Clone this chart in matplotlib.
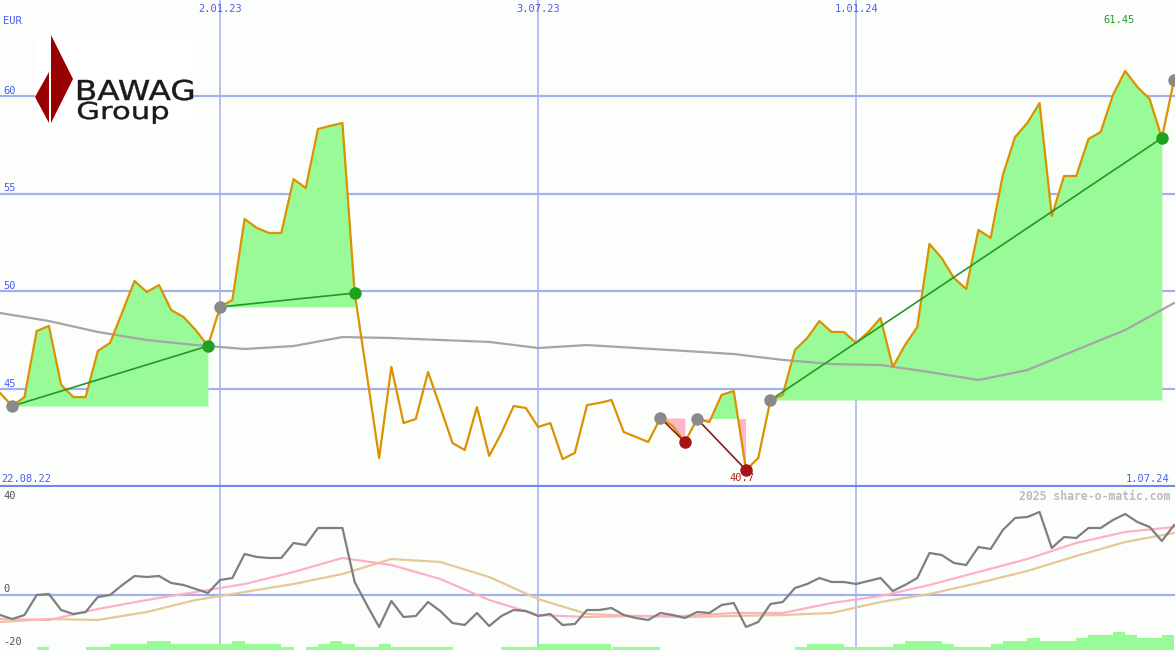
import numpy as np
import pandas as pd
import matplotlib
matplotlib.use('Agg')
import matplotlib.pyplot as plt
import matplotlib.dates as mdates
from matplotlib.patches import Polygon, Rectangle, PathPatch
from matplotlib.textpath import TextPath
from matplotlib.font_manager import FontProperties
from matplotlib.transforms import Affine2D, IdentityTransform

# weekly closes, EUR
price = [44.81, 44.14, 44.60, 47.98, 48.24, 45.22, 44.60, 44.60, 46.96, 47.37,
         48.95, 50.54, 49.97, 50.33, 49.05, 48.70, 48.03, 47.21, 49.21, 49.57,
         53.71, 53.25, 52.99, 52.99, 55.75, 55.29, 58.31, 58.47, 58.62, 49.92,
         45.73, 41.48, 46.14, 43.27, 43.48, 45.88, 44.09, 42.25, 41.89, 44.09,
         41.59, 42.76, 44.14, 44.04, 43.07, 43.27, 41.43, 41.74, 44.19, 44.30,
         44.45, 42.81, 42.56, 42.30, 43.53, 43.12, 42.30, 43.48, 43.32, 44.71,
         44.91, 40.87, 41.48, 44.45, 44.71, 47.01, 47.62, 48.49, 47.93, 47.93,
         47.37, 47.93, 48.64, 46.14, 47.26, 48.18, 52.43, 51.71, 50.69, 50.13,
         53.15, 52.74, 55.96, 57.90, 58.62, 59.64, 53.86, 55.91, 55.91, 57.80,
         58.16, 60.05, 61.28, 60.46, 59.85, 57.85, 60.82]

# long moving average, every 4th week
ma_long = [48.90, 48.49, 47.93, 47.52, 47.26, 47.06, 47.21, 47.67, 47.62, 47.52,
           47.42, 47.11, 47.26, 47.11, 46.96, 46.80, 46.50, 46.29, 46.24, 45.88,
           45.47, 45.98, 47.01, 48.03, 49.41]

# lower panel: momentum (weekly) and its two averages (every 4th week)
momentum = [-8.0, -9.6, -8.0, 0.0, 0.4, -6.0, -7.6, -6.8, -0.8, 0.0,
            4.0, 7.6, 7.2, 7.6, 4.8, 4.0, 2.4, 0.8, 6.0, 6.8,
            16.4, 15.2, 14.8, 14.8, 20.8, 20.0, 26.8, 26.8, 26.8, 5.2,
            -4.0, -12.8, -2.4, -8.8, -8.4, -2.8, -6.4, -11.2, -12.0, -7.2,
            -12.4, -8.4, -6.0, -6.4, -8.4, -7.6, -12.0, -11.6, -6.0, -6.0,
            -5.2, -8.0, -9.2, -10.0, -7.2, -8.0, -9.2, -6.8, -7.2, -4.0,
            -3.2, -12.8, -10.8, -3.6, -2.8, 2.8, 4.4, 6.8, 5.2, 5.2,
            4.4, 5.6, 6.8, 1.6, 4.0, 6.8, 16.8, 16.0, 12.8, 12.0,
            19.2, 18.4, 26.0, 30.8, 31.2, 33.2, 18.8, 23.2, 22.8, 26.8,
            26.8, 30.0, 32.4, 29.2, 27.2, 21.6, 28.0]
mom_fast = [-9.6, -10.0, -5.6, -2.0, 1.2, 4.4, 9.2, 14.8, 12.0, 6.4,
            -2.0, -8.0, -8.8, -8.4, -8.4, -7.2, -7.2, -3.2, -0.4, 4.0,
            9.2, 14.4, 20.8, 25.2, 27.2]
mom_slow = [-10.8, -9.6, -10.0, -6.8, -2.0, 1.2, 4.4, 8.4, 14.4, 13.2,
            7.2, -1.6, -7.6, -8.4, -8.8, -8.4, -8.0, -7.2, -2.8, 0.4,
            4.8, 9.6, 15.6, 21.2, 24.8]

# volume bars (relative levels)
vol = [0, 0, 0, 1, 0, 0, 0, 1, 1, 2, 2, 2, 3, 3, 2, 2, 2, 2, 2, 3,
       2, 2, 2, 1, 0, 1, 2, 3, 2, 1, 1, 2, 1, 1, 1, 1, 1, 0, 0, 0,
       0, 1, 1, 1, 2, 2, 2, 2, 2, 2, 1, 1, 1, 1, 0, 0, 0, 0, 0, 0,
       0, 0, 0, 0, 0, 1, 2, 2, 2, 1, 1, 1, 1, 2, 3, 3, 3, 2, 1, 1,
       1, 2, 3, 3, 4, 3, 3, 3, 4, 5, 5, 6, 5, 4, 4, 5]

# trend segments: (start week, end week, direction)
trends = [(1, 17, 'up'), (18, 29, 'up'), (54, 56, 'down'), (57, 61, 'down'), (63, 95, 'up')]
last_start = 96

date_ticks = ['2023-01-02', '2023-07-03', '2024-01-01']
price_ticks = [45, 50, 55, 60]
high_label, low_label = '61.45', '40.7'
high_week, low_week = 92, 61

dates = pd.date_range('2022-08-29', periods=len(price), freq='7D')
x = mdates.date2num(dates)
x4 = x[::4]
price = np.array(price)

bg = '#fcfefc'
grid = '#a3b0f0'
blue_txt = '#4a5cf0'

fig = plt.figure(figsize=(11.75, 6.5), dpi=100, facecolor=bg)
ax = fig.add_axes([0, 163 / 650, 1, 487 / 650])
ax2 = fig.add_axes([0, 0, 1, 163 / 650])
xmax = x[0] + 1175 / 12.23 * 7
for a in (ax, ax2):
    a.set_facecolor(bg)
    a.set_xlim(x[0], xmax)
    a.set_xticks([])
    a.set_yticks([])
    for s in a.spines.values():
        s.set_visible(False)

ax.set_ylim(40.0, 64.91)
ax2.set_ylim(-22, 43.2)

mono = 'DejaVu Sans Mono'

# grid
for v in price_ticks:
    ax.axhline(v, color=grid, lw=1.6, zorder=0.5)
    ax.text(x[0] + 2, v + 0.27, str(v), color=blue_txt, fontsize=7.5, family=mono,
            va='center', ha='left', zorder=6)
ax.axhline(40.0, color='#7585f0', lw=3, zorder=0.6)
for d in date_ticks:
    dn = mdates.date2num(pd.Timestamp(d))
    ax.axvline(dn, color=grid, lw=1.1, zorder=0.5)
    ax2.axvline(dn, color=grid, lw=1.1, zorder=0.5)
    lab = pd.Timestamp(d).strftime('%d.%m.%y').lstrip('0')
    ax.text(dn, 0.9815, lab, color=blue_txt, fontsize=7.5, family=mono, ha='center',
            va='center', transform=ax.get_xaxis_transform())
ax.text(x[0] + 2, 63.84, 'EUR', color=blue_txt, fontsize=7.5, family=mono, va='center')
ax.text(x[0] + 0.5, 40.41, '22.08.22', color=blue_txt, fontsize=7.5,
        family=mono, va='center')
ax.text(xmax - 3, 40.41, '1.07.24', color=blue_txt, fontsize=7.5, family=mono,
        va='center', ha='right')

# trend fills, lines and markers
for s, e, kind in trends:
    xs, ps = x[s:e + 1], price[s:e + 1]
    base = price[s]
    ax.fill_between(xs, ps, base, where=ps >= base, interpolate=True,
                    color='#98fb98', lw=0, zorder=1)
    ax.fill_between(xs, ps, base, where=ps <= base, interpolate=True,
                    color='#ffb6c8', lw=0, zorder=1)

ax.plot(x4, ma_long, color='#a6a6a6', lw=1.6, zorder=2)
ax.plot(x, price, color='#dc9200', lw=1.6, zorder=3)

for s, e, kind in trends:
    lc = '#229922' if kind == 'up' else '#8b1a1a'
    ax.plot([x[s], x[e]], [price[s], price[e]], color=lc, lw=1.2, zorder=4)
for s, e, kind in trends:
    mc = '#22a022' if kind == 'up' else '#a51515'
    ax.plot(x[s], price[s], 'o', color='#8a8a8a', ms=9, mec='none', zorder=5)
    ax.plot(x[e], price[e], 'o', color=mc, ms=9, mec='none', zorder=5)
ax.plot(x[last_start], price[last_start], 'o', color='#8a8a8a', ms=9, mec='none', zorder=5)

ax.text(x[high_week] - 3.5, 63.9, high_label, color='#2a9a2a', fontsize=7.5, family=mono,
        ha='center', va='center')
ax.text(x[low_week] - 2.5, 40.45, low_label, color='#aa2222', fontsize=7.5, family=mono,
        ha='center', va='center', zorder=4.5)

# lower panel
ax2.axhline(0, color=grid, lw=1.6, zorder=0.5)
ax2.bar(x[:len(vol)], np.array(vol) * 1.2, width=7, bottom=-22, align='edge',
        color='#98fb98', lw=0, zorder=1)
ax2.plot(x4, mom_slow, color='#e6c898', lw=1.6, zorder=2)
ax2.plot(x4, mom_fast, color='#ffb0c8', lw=1.6, zorder=2)
ax2.plot(x, momentum, color='#7f7f7f', lw=1.6, zorder=3)
for v, yv in [('40', 39.6), ('0', 2.4), ('-20', -18.8)]:
    ax2.text(x[0] + 2, yv, v, color='#555555', fontsize=7.5, family=mono, va='center')
ax2.text(xmax - 3, 39.6, '2025 share-o-matic.com', color='#bbbbbb', fontsize=8.3,
         family=mono, weight='bold', ha='right', va='center')

# logo (pixel coordinates, top-left origin)
def px(xp, yp):
    return (xp / 1175, 1 - yp / 650)

fig.add_artist(Rectangle(px(35, 126), 158 / 1175, 92 / 650, transform=fig.transFigure,
                         facecolor='white', edgecolor='none', zorder=6))
fig.add_artist(Polygon([px(51, 35), px(73, 79), px(51, 123)], closed=True,
                       transform=fig.transFigure, facecolor='#990000', edgecolor='none', zorder=7))
fig.add_artist(Polygon([px(49, 72), px(35, 97), px(49, 123)], closed=True,
                       transform=fig.transFigure, facecolor='#990000', edgecolor='none', zorder=7))

logo_font = FontProperties(family='DejaVu Sans')
cap = TextPath((0, 0), 'H', size=1, prop=logo_font).get_extents().height


def logo_word(word, x0, x1, top, base):
    path = TextPath((0, 0), word, size=1, prop=logo_font)
    ext = path.get_extents()
    sx = (x1 - x0) / ext.width
    sy = (base - top) / cap
    tr = Affine2D().translate(-ext.x0, 0).scale(sx, sy).translate(x0, 650 - base)
    fig.add_artist(PathPatch(path, transform=tr + IdentityTransform(),
                             facecolor='#1a1a1a', edgecolor='#1a1a1a', lw=0.3, zorder=8))


logo_word('BAWAG', 78, 193, 80, 100)
logo_word('Group', 78, 168, 102, 119)

fig.savefig('out.png', dpi=100, facecolor=bg)
